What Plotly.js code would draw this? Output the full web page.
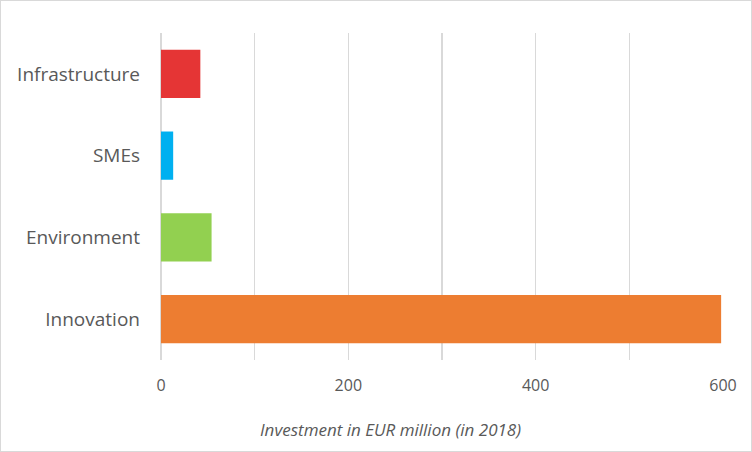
<!DOCTYPE html>
<html><head><meta charset="utf-8">
<script src="https://cdn.plot.ly/plotly-3.0.1.min.js"></script>
<style>
html,body{margin:0;padding:0;background:#fff;}
#wrap{width:752px;height:452px;box-sizing:border-box;border:1px solid #d9d9d9;position:relative;}
#chart{position:absolute;left:-1px;top:-1px;width:752px;height:452px;}
</style></head>
<body><div id="wrap"><div id="chart"></div></div>
<script>
const categories = ["Innovation", "Environment", "SMEs", "Infrastructure"];
const values = [598, 54, 13, 42];
const barColors = ["#ED7D31", "#92D050", "#00B0F0", "#E53535"];
const xTickValues = [0, 200, 400, 600];
const xTitle = "Investment in EUR million (in 2018)";

Plotly.newPlot("chart", [{
  type: "bar",
  orientation: "h",
  y: categories,
  x: values,
  marker: {color: barColors},
  hoverinfo: "x+y"
}], {
  width: 752, height: 452,
  margin: {l: 161, r: 29, t: 33, b: 92},
  paper_bgcolor: "rgba(0,0,0,0)",
  plot_bgcolor: "rgba(0,0,0,0)",
  bargap: 0.41,
  showlegend: false,
  font: {family: "Open Sans, Liberation Sans, sans-serif", color: "#595959"},
  xaxis: {
    range: [0, 600],
    tickvals: xTickValues,
    ticktext: xTickValues.map(String),
    showgrid: true,
    gridcolor: "#d9d9d9",
    gridwidth: 1.3,
    zeroline: true,
    zerolinecolor: "#d9d9d9",
    zerolinewidth: 1.3,
    showline: false,
    tickfont: {size: 16, color: "#595959"},
    ticks: "",
    ticklabelstandoff: 14,
    minor: {dtick: 100, tick0: 0, showgrid: true, gridcolor: "#d9d9d9", gridwidth: 1.3, ticks: ""}
  },
  yaxis: {
    showgrid: false,
    zeroline: false,
    showline: false,
    tickfont: {size: 19, color: "#595959"},
    ticks: "",
    ticklabelstandoff: 20,
    fixedrange: true
  },
  annotations: [{
    text: xTitle,
    xref: "paper", yref: "paper",
    x: 0.409, y: -0.214,
    xanchor: "center", yanchor: "middle",
    showarrow: false,
    font: {size: 17, color: "#595959", style: "italic"}
  }]
}, {displayModeBar: false, staticPlot: true});
</script></body></html>
